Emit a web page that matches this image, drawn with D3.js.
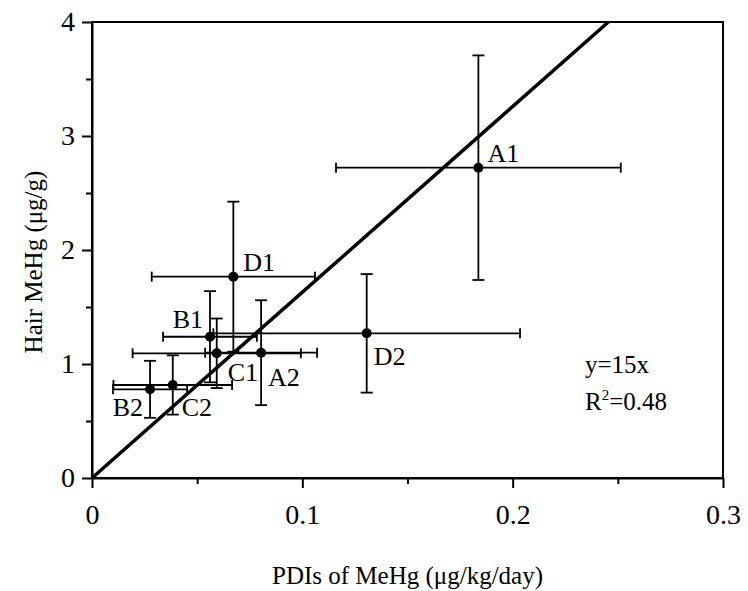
<!DOCTYPE html>
<html>
<head>
<meta charset="utf-8">
<script src="https://cdn.jsdelivr.net/npm/d3@7"></script>
<style>
  html, body { margin: 0; padding: 0; background: #fff; }
  svg { display: block; }
  text { font-family: "Liberation Serif", "Times New Roman", serif; fill: #000; }
</style>
</head>
<body>
<svg id="chart" width="748" height="591"></svg>
<script>
// ---- data ----
const sites   = ["A1", "A2", "B1", "B2", "C1", "C2", "D1", "D2"];
const pdi     = [0.1837, 0.0804, 0.0561, 0.0276, 0.0593, 0.0384, 0.0672, 0.1306];
const pdiErr  = [0.0677, 0.0266, 0.0223, 0.0176, 0.0400, 0.0282, 0.0388, 0.0729];
const hair    = [2.722, 1.099, 1.239, 0.778, 1.094, 0.816, 1.766, 1.269];
const hairErr = [0.985, 0.460, 0.400, 0.250, 0.305, 0.260, 0.658, 0.520];
const fitX = [0, 0.2455];
const fitY = [0, 4];
const xTicks = [0, 0.1, 0.2, 0.3];
const xTickLabels = ["0", "0.1", "0.2", "0.3"];
const yTicks = [0, 1, 2, 3, 4];
const yTickLabels = ["0", "1", "2", "3", "4"];
const xMinor = [0.05, 0.15, 0.25];
const yMinor = [0.5, 1.5, 2.5, 3.5];
const eqText = "y=15x";
const r2Value = "0.48";
const xTitle = "PDIs of MeHg (\u03bcg/kg/day)";
const yTitle = "Hair MeHg (\u03bcg/g)";

// ---- layout (pixel offsets for point labels: dx, dy, anchor) ----
const labelLayout = {
  A1: [9, -6, "start"],
  A2: [7, 33, "start"],
  B1: [-7, -9, "end"],
  B2: [-7, 27, "end"],
  C1: [11, 28, "start"],
  C2: [9, 31, "start"],
  D1: [10, -6, "start"],
  D2: [7, 32, "start"]
};

const svg = d3.select("#chart");
const L = 92, R = 723, T = 22, B = 478;
const x = d3.scaleLinear().domain([0, 0.3]).range([L, R]);
const y = d3.scaleLinear().domain([0, 4]).range([B, T]);

const data = sites.map((s, i) => ({ s, x: pdi[i], xe: pdiErr[i], y: hair[i], ye: hairErr[i] }));

// frame
svg.append("rect").attr("x", L).attr("y", T).attr("width", R - L).attr("height", B - T)
  .attr("fill", "none").attr("stroke", "#000").attr("stroke-width", 2);

// x axis
const xAxis = d3.axisBottom(x).tickValues(xTicks).tickFormat((d, i) => xTickLabels[i])
  .tickSizeInner(10).tickSizeOuter(0).tickPadding(16);
const gx = svg.append("g").attr("transform", `translate(0,${B})`).call(xAxis);
gx.select(".domain").attr("stroke-width", 2);
gx.selectAll(".tick line").attr("stroke-width", 2);
gx.selectAll(".tick text").attr("font-size", 28).attr("font-family", "Liberation Serif");
const xAxisMinor = d3.axisBottom(x).tickValues(xMinor).tickFormat("").tickSizeInner(6).tickSizeOuter(0);
const gxm = svg.append("g").attr("transform", `translate(0,${B})`).call(xAxisMinor);
gxm.select(".domain").remove();
gxm.selectAll(".tick line").attr("stroke-width", 2);

// y axis
const yAxis = d3.axisLeft(y).tickValues(yTicks).tickFormat((d, i) => yTickLabels[i])
  .tickSizeInner(10).tickSizeOuter(0).tickPadding(7);
const gy = svg.append("g").attr("transform", `translate(${L},0)`).call(yAxis);
gy.select(".domain").attr("stroke-width", 2);
gy.selectAll(".tick line").attr("stroke-width", 2);
gy.selectAll(".tick text").attr("font-size", 28).attr("font-family", "Liberation Serif");
const yAxisMinor = d3.axisLeft(y).tickValues(yMinor).tickFormat("").tickSizeInner(6).tickSizeOuter(0);
const gym = svg.append("g").attr("transform", `translate(${L},0)`).call(yAxisMinor);
gym.select(".domain").remove();
gym.selectAll(".tick line").attr("stroke-width", 2);

// fit line
svg.append("line")
  .attr("x1", x(fitX[0])).attr("y1", y(fitY[0]))
  .attr("x2", x(fitX[1])).attr("y2", y(fitY[1]))
  .attr("stroke", "#000").attr("stroke-width", 3.5);

// error bars
const eb = svg.append("g").attr("stroke", "#000").attr("stroke-width", 1.8);
data.forEach(d => {
  const g = eb.append("g");
  g.append("line").attr("x1", x(d.x - d.xe)).attr("x2", x(d.x + d.xe)).attr("y1", y(d.y)).attr("y2", y(d.y));
  [d.x - d.xe, d.x + d.xe].forEach(v => g.append("line")
    .attr("x1", x(v)).attr("x2", x(v)).attr("y1", y(d.y) - 5).attr("y2", y(d.y) + 5));
  g.append("line").attr("x1", x(d.x)).attr("x2", x(d.x)).attr("y1", y(d.y - d.ye)).attr("y2", y(d.y + d.ye));
  [d.y - d.ye, d.y + d.ye].forEach(v => g.append("line")
    .attr("x1", x(d.x) - 6).attr("x2", x(d.x) + 6).attr("y1", y(v)).attr("y2", y(v)));
});

// points
svg.append("g").selectAll("circle").data(data).join("circle")
  .attr("cx", d => x(d.x)).attr("cy", d => y(d.y)).attr("r", 5).attr("fill", "#000");

// point labels
svg.append("g").selectAll("text").data(data).join("text")
  .attr("x", d => x(d.x) + labelLayout[d.s][0])
  .attr("y", d => y(d.y) + labelLayout[d.s][1])
  .attr("text-anchor", d => labelLayout[d.s][2])
  .attr("font-size", 26)
  .text(d => d.s);

// equation
svg.append("text").attr("x", 585).attr("y", 373).attr("font-size", 25).text(eqText);
const r2 = svg.append("text").attr("x", 585).attr("y", 410).attr("font-size", 25);
r2.append("tspan").text("R");
r2.append("tspan").attr("dy", -10).attr("font-size", 15).text("2");
r2.append("tspan").attr("dy", 10).text("=" + r2Value);

// axis titles
svg.append("text").attr("x", (L + R) / 2).attr("y", 584).attr("text-anchor", "middle")
  .attr("font-size", 25).text(xTitle);
svg.append("text").attr("transform", `translate(42,262) rotate(-90)`)
  .attr("text-anchor", "middle").attr("font-size", 25).text(yTitle);
</script>
</body>
</html>
